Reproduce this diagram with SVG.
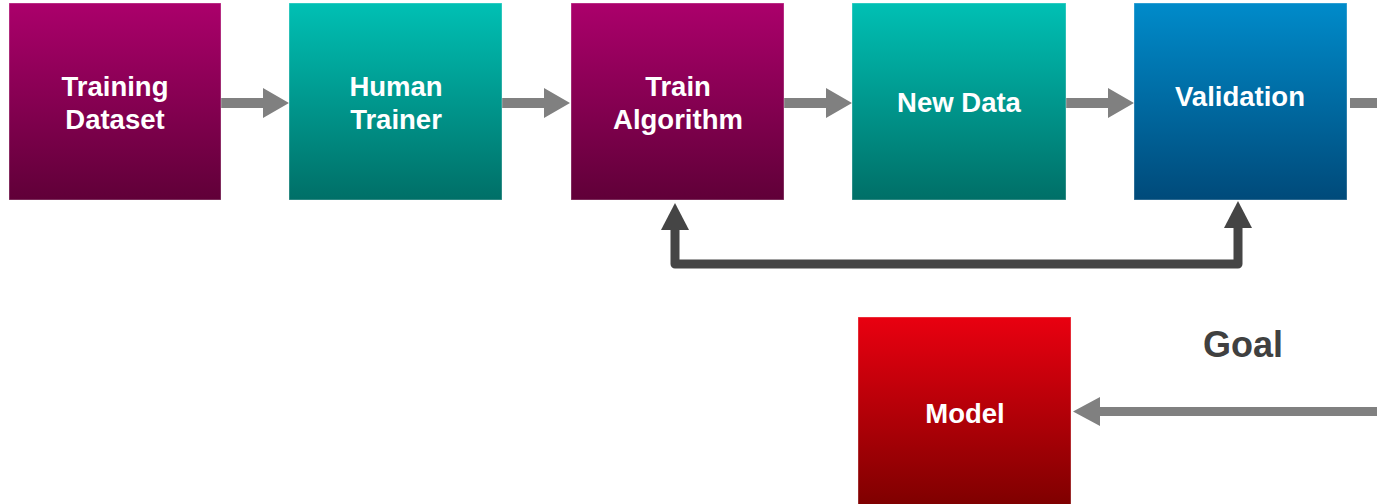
<svg xmlns="http://www.w3.org/2000/svg" width="1377" height="504" viewBox="0 0 1377 504">
<style>
.lbl{font-family:"Liberation Sans",Arial,sans-serif;font-weight:bold;font-size:27.5px;fill:#fff;text-anchor:middle}
.goal{font-family:"Liberation Sans",Arial,sans-serif;font-weight:bold;font-size:36px;fill:#404040;text-anchor:middle}
.box{stroke:#ffffff;stroke-opacity:0.35;stroke-width:1}
.ga{fill:#808080}
.fb{fill:none;stroke:#454545;stroke-width:9;stroke-linejoin:round}
</style>
<defs>
<linearGradient id="gM" x1="0" y1="0" x2="0" y2="1"><stop offset="0" stop-color="#AB006B"/><stop offset="1" stop-color="#600038"/></linearGradient>
<linearGradient id="gT" x1="0" y1="0" x2="0" y2="1"><stop offset="0" stop-color="#00C0B4"/><stop offset="1" stop-color="#006F67"/></linearGradient>
<linearGradient id="gB" x1="0" y1="0" x2="0" y2="1"><stop offset="0" stop-color="#008BCA"/><stop offset="1" stop-color="#004A7A"/></linearGradient>
<linearGradient id="gR" x1="0" y1="0" x2="0" y2="1"><stop offset="0" stop-color="#E90010"/><stop offset="1" stop-color="#7E0000"/></linearGradient>
</defs>
<g id="connectors">
<path class="ga" d="M221 98H263V88L289 103L263 118V108H221Z"/>
<path class="ga" d="M502 98H544V88L570 103L544 118V108H502Z"/>
<path class="ga" d="M784 98H826V88L852 103L826 118V108H784Z"/>
<path class="ga" d="M1066 98H1108V88L1134 103L1108 118V108H1066Z"/>
<rect class="ga" x="1350" y="98" width="27" height="10"/>
<path class="ga" d="M1377 407H1100V397L1073 411.5L1100 426V416H1377Z"/>
<path class="fb" d="M675 228V264H1238V226"/>
<path fill="#454545" d="M661 230L675 203L689 230Z"/>
<path fill="#454545" d="M1224 228L1238 201L1252 228Z"/>
</g>
<g id="training-dataset"><rect class="box" x="9" y="3" width="212" height="197" fill="url(#gM)"/><text class="lbl" x="115" y="96">Training</text><text class="lbl" x="115" y="129">Dataset</text></g>
<g id="human-trainer"><rect class="box" x="289" y="3" width="213" height="197" fill="url(#gT)"/><text class="lbl" x="396" y="96">Human</text><text class="lbl" x="396" y="129">Trainer</text></g>
<g id="train-algorithm"><rect class="box" x="571" y="3" width="213" height="197" fill="url(#gM)"/><text class="lbl" x="678" y="96">Train</text><text class="lbl" x="678" y="129">Algorithm</text></g>
<g id="new-data"><rect class="box" x="852" y="3" width="214" height="197" fill="url(#gT)"/><text class="lbl" x="959" y="112">New Data</text></g>
<g id="validation"><rect class="box" x="1134" y="3" width="213" height="197" fill="url(#gB)"/><text class="lbl" x="1240" y="106">Validation</text></g>
<g id="model"><rect class="box" x="858" y="317" width="213" height="190" fill="url(#gR)"/><text class="lbl" x="965" y="423">Model</text></g>
<g id="goal"><text class="goal" x="1243" y="357">Goal</text></g>
</svg>
